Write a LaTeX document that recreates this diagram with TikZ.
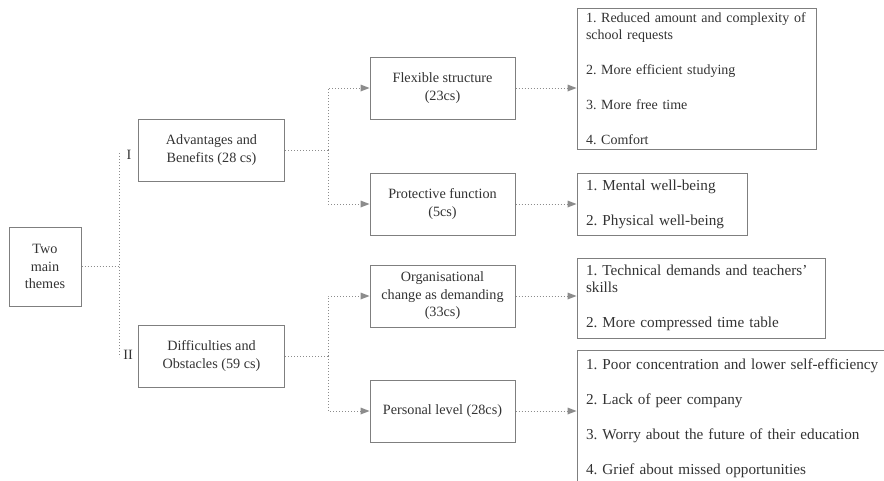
\documentclass[tikz,border=0pt]{standalone}
\usepackage{fontspec}
\setmainfont{Liberation Serif}
\frenchspacing
\usetikzlibrary{arrows.meta}
\definecolor{txt}{HTML}{333333}
\definecolor{bord}{HTML}{7F7F7F}
\definecolor{conn}{HTML}{8C8C8C}
\begin{document}
\begin{tikzpicture}[x=1pt,y=-1pt,
  every node/.style={font=\fontsize{14.2}{17.5}\selectfont, text=txt},
  box/.style={draw=bord, line width=1pt, align=center, inner sep=0pt},
  midbox/.style={box, minimum width=146pt, minimum height=62pt},
  listbox/.style={draw=bord, line width=1pt, align=left, inner xsep=9pt, inner ysep=0pt, font=\fontsize{15.2}{17.5}\selectfont},
  link/.style={draw=conn, line width=1pt, dash pattern=on 1pt off 2pt},
  arr/.style={link, -{Triangle[length=9pt,width=7pt,fill=conn,color=conn,line width=0pt]}, shorten >=0pt}
]
\fill[white] (0,0) rectangle (884,480);
\useasboundingbox (0,0) rectangle (884,480);

% left
\node[box, minimum width=72pt, minimum height=79pt] (two) at (45,266.5) {Two\\main\\themes};
\node[midbox] (adv) at (211.5,150) {Advantages and\\Benefits (28 cs)};
\node[midbox] (dif) at (211.5,356) {Difficulties and\\Obstacles (59 cs)};
\node (lI) at (129,155) {I};
\node (lII) at (128,355) {II};

% middle
\node[midbox, minimum width=145pt] (flex) at (442.5,88) {Flexible structure\\(23cs)};
\node[midbox, minimum width=145pt] (prot) at (442.5,204) {Protective function\\(5cs)};
\node[midbox, minimum width=145pt] (org) at (442.5,296) {Organisational\\change as demanding\\(33cs)};
\node[midbox, minimum width=145pt] (pers) at (442.5,411) {Personal level (28cs)};

% right
\node[listbox, text width=221pt, minimum height=141pt, font=\fontsize{14}{17.5}\selectfont] (r1) at (696.5,78.5)
  {\mbox{1. Reduced amount and complexity of}\\school requests\\[17.5pt]2. More efficient studying\\[17.5pt]3. More free time\\[17.5pt]4. Comfort};
\node[listbox, text width=152pt, minimum height=62pt] (r2) at (662,204)
  {1. Mental well-being\\[17.5pt]2. Physical well-being};
\node[listbox, text width=230pt, minimum height=80pt] (r3) at (701,298)
  {\mbox{1. Technical demands and teachers'}\\skills\\[17.5pt]\mbox{2. More compressed time table}};
\node[listbox, text width=300pt, minimum height=137pt] (r4) at (736,418.5)
  {\mbox{1. Poor concentration and lower self-efficiency}\\[17.5pt]2. Lack of peer company\\[17.5pt]3. Worry about the future of their education\\[17.5pt]4. Grief about missed opportunities};

% junctions
\coordinate (j0) at (119,266.5);
\coordinate (jI) at (119,153);
\coordinate (jII) at (119,357);
\coordinate (j1) at (328,150);
\coordinate (j2) at (328,356);

\draw[link] (two.east) -- (j0);
\draw[link] (jI) -- (jII);
\draw[link] (adv.east) -- (j1);
\draw[link] (dif.east) -- (j2);
\draw[arr] (j1) |- (flex.west);
\draw[arr] (j1) |- (prot.west);
\draw[arr] (j2) |- (org.west);
\draw[arr] (j2) |- (pers.west);
\draw[arr] (flex.east) -- (flex.east -| r1.west);
\draw[arr] (prot.east) -- (prot.east -| r2.west);
\draw[arr] (org.east) -- (org.east -| r3.west);
\draw[arr] (pers.east) -- (pers.east -| r4.west);
\end{tikzpicture}
\end{document}
